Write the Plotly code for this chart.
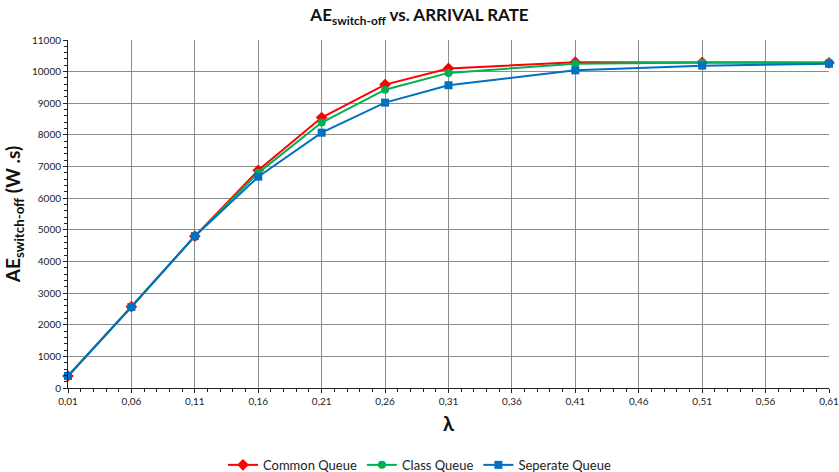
import plotly.graph_objects as go

# Arrival rate (lambda) values
arrival_rate = [0.01, 0.06, 0.11, 0.16, 0.21, 0.26, 0.31, 0.41, 0.51, 0.61]

# Switch-off energy (W.s) per queueing strategy
common_queue = [380, 2570, 4800, 6880, 8550, 9590, 10100, 10300, 10290, 10280]
class_queue = [380, 2570, 4800, 6800, 8390, 9430, 9960, 10250, 10290, 10290]
separate_queue = [380, 2560, 4800, 6680, 8070, 9020, 9570, 10040, 10190, 10250]

# Major x-axis tick positions and their labels
x_tick_values = [0.01, 0.06, 0.11, 0.16, 0.21, 0.26, 0.31, 0.36, 0.41, 0.46, 0.51, 0.56, 0.61]
x_tick_labels = ["0,01", "0,06", "0,11", "0,16", "0,21", "0,26", "0,31",
                 "0,36", "0,41", "0,46", "0,51", "0,56", "0,61"]

series = [
    ("Common Queue", common_queue, "#FF0000", "diamond", 9),
    ("Class Queue", class_queue, "#00B050", "circle", 8),
    ("Seperate Queue", separate_queue, "#0070C0", "square", 8),
]

fig = go.Figure()
for name, values, color, symbol, size in series:
    fig.add_trace(go.Scatter(
        x=arrival_rate, y=values, name=name, mode="lines+markers",
        line=dict(color=color, width=2),
        marker=dict(symbol=symbol, size=size, color=color),
        cliponaxis=False,
    ))

font_family = "Lato, 'Open Sans', sans-serif"

fig.update_layout(
    width=839, height=472,
    margin=dict(l=68, r=10, t=40, b=84, autoexpand=False),
    paper_bgcolor="white", plot_bgcolor="white",
    font=dict(family=font_family, color="#333333"),
    title=dict(
        text="<b>AE<sub>switch-off</sub> vs. ARRIVAL RATE</b>",
        x=0.5, xanchor="center", y=0.968, yanchor="middle",
        font=dict(size=17, color="#111111"),
    ),
    showlegend=True,
    legend=dict(
        orientation="h", xref="container", x=0.5, xanchor="center",
        yref="container", y=0.015, yanchor="middle",
        font=dict(size=13, color="#222222"), itemwidth=30,
    ),
    xaxis=dict(
        range=[0.01, 0.61],
        tickmode="array", tickvals=x_tick_values, ticktext=x_tick_labels,
        ticklabeloverflow="allow",
        showgrid=True, gridcolor="#8c8c8c", gridwidth=1,
        showline=True, linecolor="#222222", linewidth=1,
        ticks="outside", ticklen=4, tickcolor="#222222",
        minor=dict(tickmode="linear", tick0=0.01, dtick=0.01, ticks="outside",
                   ticklen=3, tickcolor="#222222", showgrid=False),
        tickfont=dict(size=10, color="#222222", family=font_family),
        title=dict(text="<b>λ</b>", font=dict(size=20, color="#111111"), standoff=10),
        zeroline=False, automargin=False,
    ),
    yaxis=dict(
        range=[0, 11000], dtick=1000, tickformat="d",
        showgrid=True, gridcolor="#8c8c8c", gridwidth=1,
        showline=True, linecolor="#222222", linewidth=1,
        ticks="outside", ticklen=4, tickcolor="#222222",
        minor=dict(dtick=200, ticks="outside", ticklen=3, tickcolor="#222222", showgrid=False),
        tickfont=dict(size=10, color="#222222", family=font_family),
        title=dict(text="<b>AE<sub>switch-off</sub> (W .s)</b>", font=dict(size=19, color="#111111"), standoff=6),
        zeroline=False, automargin=False,
    ),
)

fig.write_html("out.html")
